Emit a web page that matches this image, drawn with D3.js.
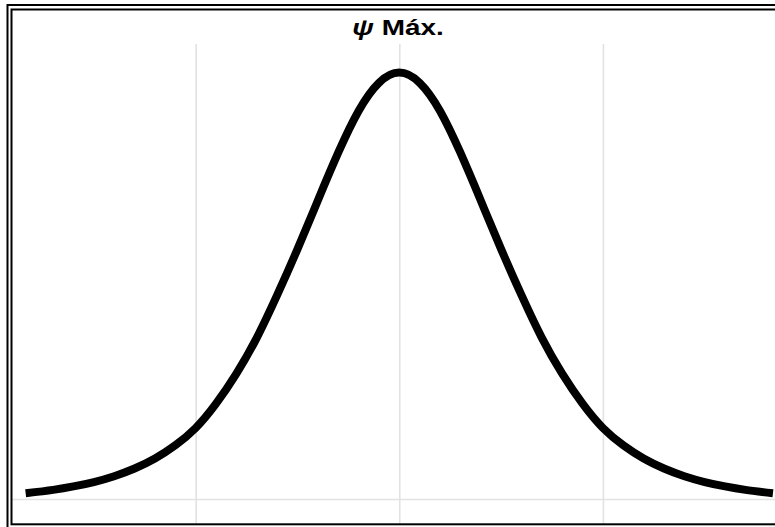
<!DOCTYPE html>
<html>
<head>
<meta charset="utf-8">
<script src="https://cdn.jsdelivr.net/npm/d3@7"></script>
<style>
  html, body { margin: 0; padding: 0; background: #fff; }
  svg { display: block; }
</style>
</head>
<body>
<svg id="chart" width="775" height="527"></svg>
<script>
// Data (peak normalised to 1)
const xValues = [-1.835, -1.7, -1.6, -1.5, -1.4, -1.3, -1.2, -1.1, -1.0, -0.9, -0.8, -0.7, -0.6, -0.5, -0.4, -0.3, -0.2, -0.1, 0,
                 0.1, 0.2, 0.3, 0.4, 0.5, 0.6, 0.7, 0.8, 0.9, 1.0, 1.1, 1.2, 1.3, 1.4, 1.5, 1.6, 1.7, 1.835];
const psiValues = [0.0135, 0.0215, 0.0295, 0.0398, 0.0535, 0.0715, 0.0950, 0.1260, 0.1665, 0.2235, 0.294, 0.378, 0.478, 0.586, 0.70, 0.812, 0.910, 0.976, 1.0,
                   0.976, 0.910, 0.812, 0.70, 0.586, 0.478, 0.378, 0.294, 0.2235, 0.1665, 0.1260, 0.0950, 0.0715, 0.0535, 0.0398, 0.0295, 0.0215, 0.0135];
const xTicks = [-1, 0, 1];
const yTicks = [0];
const titleSymbol = "ψ";
const titleText = " Máx.";

const svg = d3.select("#chart");
const W = 775, H = 527;

// plot region
const plot = { left: 12, right: 786.6, top: 44, bottom: 524 };
const x = d3.scaleLinear().domain([-1.902, 1.902]).range([plot.left, plot.right]);
const y = d3.scaleLinear().domain([-0.0586, 1.067]).range([plot.bottom, plot.top]);

// grid lines via axes
const gx = svg.append("g")
  .attr("transform", `translate(0,${plot.bottom})`)
  .call(d3.axisBottom(x).tickValues(xTicks).tickSize(-(plot.bottom - plot.top)).tickFormat(""));
gx.select(".domain").remove();
gx.selectAll(".tick line").attr("stroke", "#e2e2e2").attr("stroke-width", 1.6);

const gy = svg.append("g")
  .attr("transform", `translate(${plot.left},0)`)
  .call(d3.axisLeft(y).tickValues(yTicks).tickSize(-(W - plot.left)).tickFormat(""));
gy.select(".domain").remove();
gy.selectAll(".tick line").attr("stroke", "#e2e2e2").attr("stroke-width", 1.6);

// curve
const data = xValues.map((v, i) => ({ x: v, y: psiValues[i] }));
const line = d3.line().x(d => x(d.x)).y(d => y(d.y)).curve(d3.curveNatural);
svg.append("path")
  .datum(data)
  .attr("d", line)
  .attr("fill", "none")
  .attr("stroke", "#000")
  .attr("stroke-width", 8)
  .attr("stroke-linecap", "butt")
  .attr("stroke-linejoin", "round");

// double frame
svg.append("rect")
  .attr("x", 7.5).attr("y", 5).attr("width", 820).attr("height", 600)
  .attr("fill", "none").attr("stroke", "#000").attr("stroke-width", 2);
svg.append("rect")
  .attr("x", 11.5).attr("y", 9.5).attr("width", 820).attr("height", 514.8)
  .attr("fill", "none").attr("stroke", "#000").attr("stroke-width", 2);

// title
const t = svg.append("text")
  .attr("transform", "translate(398,34.5) scale(1.3,1)")
  .attr("text-anchor", "middle")
  .attr("font-family", "'Liberation Sans', Arial, sans-serif")
  .attr("font-weight", "bold")
  .attr("font-size", 21.5)
  .attr("fill", "#000");
t.append("tspan").attr("font-style", "italic").text(titleSymbol);
t.append("tspan").text(titleText);
</script>
</body>
</html>
